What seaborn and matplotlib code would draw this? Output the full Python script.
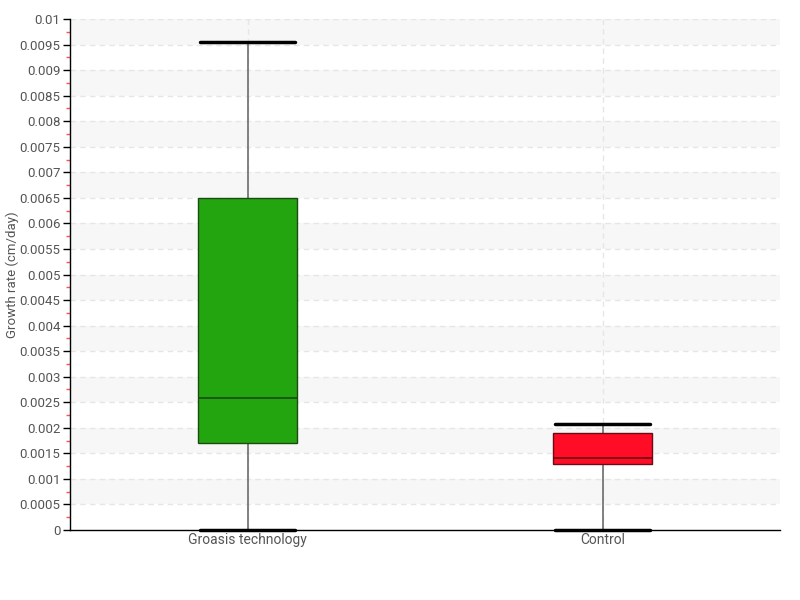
import matplotlib
matplotlib.use("Agg")
import matplotlib.pyplot as plt
import seaborn as sns
import numpy as np
import pandas as pd
from matplotlib.ticker import MultipleLocator, FuncFormatter

categories = ["Groasis technology", "Control"]
# five-number summaries: min, Q1, median, Q3, max
groasis_values = [0.0, 0.0017, 0.00258, 0.0065, 0.00955]
control_values = [0.0, 0.0013, 0.0014, 0.0019, 0.00207]
box_colors = ["#22a50e", "#ff0d26"]
edge_colors = ["#1d4a12", "#6a0b16"]
y_label = "Growth rate (cm/day)"

df = pd.DataFrame({
    "group": [categories[0]] * len(groasis_values) + [categories[1]] * len(control_values),
    "rate": groasis_values + control_values,
})

sns.set_theme(style="white")
plt.rcParams["font.family"] = ["Roboto", "DejaVu Sans"]

fig = plt.figure(figsize=(8, 6), dpi=100)
ax = fig.add_axes([0.0875, 0.1167, 0.8875, 0.8516])

# alternating bands and dashed grid
for k in range(20):
    lo = k * 0.0005
    if k % 2 == 1:
        ax.axhspan(lo, lo + 0.0005, color="#f7f7f7", zorder=0, lw=0)
for k in range(1, 21):
    ax.axhline(k * 0.0005, color="#e6e6e6", lw=1, ls=(0, (4, 3)), zorder=0.5)

sns.boxplot(data=df, x="group", y="rate", hue="group", palette=box_colors,
            order=categories, hue_order=categories, width=0.28, whis=(0, 100),
            legend=False, ax=ax, showfliers=False, zorder=3)

for i, cont in enumerate(ax.containers):
    for b in cont.boxes:
        b.set_edgecolor(edge_colors[i])
        b.set_linewidth(1)
        b.set_facecolor(box_colors[i])
        b.set_alpha(1)
        b.set_zorder(3)
    for m in cont.medians:
        m.set_color(edge_colors[i])
        m.set_linewidth(1.2)
        m.set_zorder(4)
    for w in cont.whiskers:
        w.set_color("#777777")
        w.set_linewidth(1.3)
        w.set_zorder(2)
    for c in cont.caps:
        xd = c.get_xdata()
        cx = (xd[0] + xd[-1]) / 2
        c.set_xdata([cx - 0.135, cx + 0.135])
        c.set_color("black")
        c.set_linewidth(2.5)
        c.set_zorder(2.5)
        c.set_clip_on(False)

for xpos in range(len(categories)):
    ax.axvline(xpos, color="#e6e6e6", lw=1, ls=(0, (4, 3)), zorder=0.6)

ax.set_xlim(-0.5, 1.5)
ax.set_ylim(0, 0.01)
ax.yaxis.set_major_locator(MultipleLocator(0.0005))
ax.yaxis.set_minor_locator(MultipleLocator(0.00025))

def fmt(v, pos):
    s = f"{v:.4f}".rstrip("0").rstrip(".")
    return s
ax.yaxis.set_major_formatter(FuncFormatter(fmt))

ax.tick_params(axis="y", which="major", left=True, length=5, width=1, color="black",
               labelsize=9.5, labelcolor="#555555", pad=2)
ax.tick_params(axis="y", which="minor", left=True, length=3, width=1, color="#ff5555")
ax.tick_params(axis="x", which="major", bottom=False, length=0, labelsize=10,
               labelcolor="#555555", pad=2)

for s in ["top", "right"]:
    ax.spines[s].set_visible(False)
for s in ["left", "bottom"]:
    ax.spines[s].set_color("black")
    ax.spines[s].set_linewidth(1)

ax.set_xlabel("")
ax.set_ylabel(y_label, fontsize=9.5, color="#555555")
ax.yaxis.set_label_coords(-0.0715, 0.5)
ax.grid(False)

fig.savefig("out.png", dpi=100)
